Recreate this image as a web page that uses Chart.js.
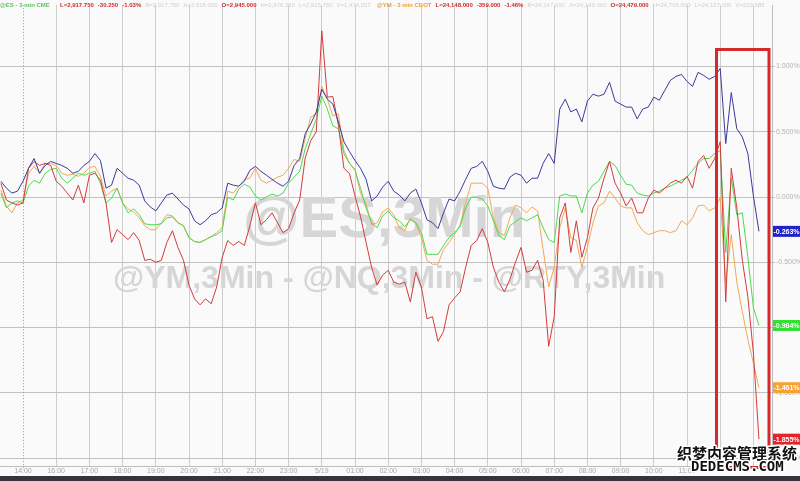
<!DOCTYPE html>
<html>
<head>
<meta charset="utf-8">
<script src="https://cdn.jsdelivr.net/npm/chart.js@4.4.1/dist/chart.umd.min.js"></script>
<style>
  html, body { margin: 0; padding: 0; background: #fafafa; }
  #wrap { width: 800px; height: 481px; }
</style>
</head>
<body>
<div id="wrap"><canvas id="chart" width="800" height="481"></canvas></div>
<script>
// 10-minute samples, % change vs. prior close
// x is trading hours after 14:00 (the 15:00-16:00 break is skipped)
const startHour = -4 / 6
const stepHour = 1 / 6

const tickLabels = ['14:00', '16:00', '17:00', '18:00', '19:00', '20:00', '21:00', '22:00', '23:00', '5/19',
  '01:00', '02:00', '03:00', '04:00', '05:00', '06:00', '07:00', '08:00', '09:00', '10:00', '11:00']
const hourCount = 23
const yTicks = [1.0, 0.5, 0.0, -0.5, -1.0, -1.5, -2.0]

const esValues = [
  0.121, 0.068, 0.030, 0.045, 0.121, 0.220, 0.295, 0.182, 0.242, 0.273,
  0.258, 0.242, 0.220, 0.182, 0.197, 0.242, 0.273, 0.333, 0.280, 0.068,
  0.091, 0.220, 0.182, 0.144, 0.129, 0.091, -0.030, -0.076, -0.106, -0.045,
  0.015, 0.030, -0.015, -0.061, -0.091, -0.182, -0.212, -0.182, -0.136, -0.121,
  -0.083, 0.106, 0.091, 0.083, 0.121, 0.205, 0.235, 0.197, 0.167, 0.136,
  0.106, 0.083, 0.121, 0.242, 0.295, 0.485, 0.561, 0.652, 0.826, 0.750,
  0.712, 0.576, 0.424, 0.348, 0.280, 0.220, 0.136, -0.030, 0.008, 0.076,
  0.121, 0.045, 0.015, -0.030, 0.030, 0.061, -0.045, -0.174, -0.197, -0.242,
  -0.121, -0.015, -0.030, 0.045, 0.136, 0.220, 0.235, 0.273, 0.197, 0.083,
  0.068, 0.061, 0.152, 0.182, 0.167, 0.106, 0.144, 0.144, 0.258, 0.333,
  0.258, 0.674, 0.750, 0.652, 0.674, 0.576, 0.735, 0.788, 0.773, 0.788,
  0.879, 0.735, 0.712, 0.689, 0.689, 0.598, 0.674, 0.689, 0.765, 0.742,
  0.818, 0.894, 0.924, 0.939, 0.886, 0.848, 0.955, 0.932, 0.902, 0.924,
  0.985, 0.410, 0.800, 0.523, 0.460, 0.333, 0.008, -0.263
]

const rtyValues = [
  0.106, -0.023, -0.045, -0.061, -0.045, 0.220, 0.273, 0.242, 0.258, 0.242,
  0.121, 0.083, 0.030, -0.023, 0.091, -0.045, 0.167, 0.182, 0.129, -0.045,
  -0.348, -0.250, -0.288, -0.326, -0.273, -0.333, -0.485, -0.477, -0.500, -0.485,
  -0.348, -0.258, -0.386, -0.485, -0.674, -0.780, -0.826, -0.780, -0.818, -0.689,
  -0.462, -0.333, -0.371, -0.341, -0.371, -0.220, -0.045, -0.212, -0.174, -0.121,
  -0.197, -0.273, -0.242, -0.121, -0.023, 0.300, 0.432, 0.500, 1.273, 0.765,
  0.770, 0.550, 0.220, 0.180, 0.008, -0.150, -0.348, -0.538, -0.674, -0.598,
  -0.561, -0.652, -0.667, -0.652, -0.803, -0.576, -0.689, -0.932, -0.917, -1.106,
  -1.030, -0.826, -0.773, -0.727, -0.538, -0.371, -0.333, -0.242, -0.348, -0.538,
  -0.652, -0.727, -0.629, -0.500, -0.386, -0.576, -0.561, -0.485, -0.636, -1.144,
  -0.917, -0.159, -0.045, -0.424, -0.182, -0.462, -0.311, -0.083, -0.008, 0.144,
  0.273, 0.106, 0.030, -0.068, -0.008, -0.121, -0.121, -0.008, 0.053, 0.030,
  0.068, 0.106, 0.129, 0.106, 0.159, 0.068, 0.273, 0.318, 0.220, 0.295,
  0.424, -0.803, 0.220, -0.083, -0.485, -0.765, -1.197, -1.855
]

const nqValues = [
  0.030, -0.083, -0.045, -0.030, -0.045, 0.083, 0.129, 0.106, 0.182, 0.212,
  0.220, 0.144, 0.106, 0.144, 0.182, 0.167, 0.182, 0.197, 0.106, -0.045,
  -0.008, 0.068, -0.045, -0.121, -0.091, -0.136, -0.205, -0.212, -0.212, -0.205,
  -0.159, -0.152, -0.197, -0.220, -0.311, -0.341, -0.348, -0.326, -0.303, -0.288,
  -0.258, 0.000, -0.023, 0.061, 0.098, 0.076, 0.008, -0.023, 0.000, 0.023,
  0.008, 0.030, 0.106, 0.152, 0.197, 0.371, 0.485, 0.598, 0.773, 0.674,
  0.545, 0.523, 0.333, 0.258, 0.205, 0.068, -0.083, -0.197, -0.235, -0.144,
  -0.106, -0.159, -0.182, -0.227, -0.174, -0.197, -0.273, -0.439, -0.439, -0.439,
  -0.371, -0.311, -0.273, -0.227, -0.083, 0.000, 0.000, -0.015, -0.068, -0.182,
  -0.295, -0.326, -0.220, -0.189, -0.159, -0.182, -0.159, -0.136, -0.235, -0.326,
  -0.348, 0.008, 0.023, 0.008, 0.008, -0.121, 0.030, 0.091, 0.121, 0.197,
  0.273, 0.242, 0.167, 0.098, 0.091, 0.030, 0.015, 0.008, 0.030, 0.045,
  0.068, 0.083, 0.106, 0.129, 0.152, 0.205, 0.258, 0.295, 0.295, 0.333,
  0.356, -0.424, 0.144, -0.136, -0.121, -0.462, -0.848, -0.984
]

const ymValues = [
  0.053, -0.068, -0.121, -0.045, -0.023, 0.182, 0.235, 0.182, 0.258, 0.258,
  0.242, 0.182, 0.167, 0.174, 0.159, 0.182, 0.227, 0.235, 0.159, 0.008,
  0.045, 0.068, -0.045, -0.091, -0.114, -0.159, -0.220, -0.250, -0.250, -0.197,
  -0.136, -0.144, -0.197, -0.220, -0.311, -0.341, -0.348, -0.326, -0.303, -0.273,
  -0.235, 0.045, 0.030, 0.083, 0.136, 0.144, 0.220, 0.129, 0.106, 0.129,
  0.152, 0.167, 0.220, 0.288, 0.273, 0.447, 0.614, 0.636, 0.848, 0.750,
  0.621, 0.636, 0.356, 0.258, 0.212, 0.030, -0.053, -0.212, -0.197, -0.114,
  -0.083, -0.136, -0.235, -0.258, -0.159, -0.205, -0.311, -0.485, -0.515, -0.515,
  -0.402, -0.348, -0.288, -0.212, -0.045, 0.106, 0.106, 0.106, 0.068, -0.159,
  -0.273, -0.295, -0.159, -0.061, -0.083, -0.121, -0.076, -0.106, -0.402, -0.689,
  -0.538, -0.235, -0.083, -0.311, -0.333, -0.538, -0.386, -0.197, -0.068, -0.045,
  0.045, -0.008, -0.068, -0.083, -0.083, -0.197, -0.258, -0.288, -0.273, -0.258,
  -0.258, -0.273, -0.258, -0.182, -0.212, -0.159, -0.068, -0.061, -0.106, -0.083,
  -0.008, -0.652, -0.288, -0.652, -0.879, -1.091, -1.273, -1.461
]

const seriesNames = ['@ES', '@RTY', '@NQ', '@YM']
const lineColors = ['#3a3a9c', '#d23c3c', '#4ed84e', '#f0a85a']
const tagColors = ['#2222cc', '#e0242a', '#33e033', '#f5a233']

// header strip, like the terminal's quote line: [text, colour, min x, bold]
const header = [
  ['@ES - 3 min CME', '#62c062', 0, true],
  ['L=2,917.750', '#cc2b2b', 60, true],
  ['-30.250', '#cc2b2b', 0, true],
  ['-1.03%', '#cc2b2b', 0, true],
  ['B=2,917.750', '#d0d0d0', 0, false],
  ['A=2,918.000', '#d0d0d0', 0, false],
  ['O=2,945.000', '#cc2b2b', 195, true],
  ['H=2,976.250', '#d0d0d0', 253, false],
  ['L=2,915.750', '#d0d0d0', 0, false],
  ['V=1,474,037', '#d0d0d0', 0, false],
  ['@YM - 3 min CBOT', '#eba03e', 377, true],
  ['L=24,148.000', '#cc2b2b', 433, true],
  ['-359.000', '#cc2b2b', 0, true],
  ['-1.46%', '#cc2b2b', 0, true],
  ['B=24,147.000', '#d0d0d0', 0, false],
  ['A=24,149.000', '#d0d0d0', 0, false],
  ['O=24,479.000', '#cc2b2b', 605, true],
  ['H=24,765.000', '#d0d0d0', 647, false],
  ['L=24,127.000', '#d0d0d0', 0, false],
  ['V=229,585', '#d0d0d0', 0, false]
]

function toPoints(vals) {
  return vals.map((v, i) => ({ x: startHour + i * stepHour, y: v }))
}

const FONT = '"Liberation Sans", Arial, sans-serif'

const overlay = {
  id: 'overlay',
  beforeDraw(chart) {
    const ctx = chart.ctx
    ctx.save()
    ctx.fillStyle = '#fafafa'
    ctx.fillRect(0, 0, chart.width, chart.height)
    ctx.restore()
  },
  beforeDatasetsDraw(chart) {
    const ctx = chart.ctx
    const area = chart.chartArea
    const x = chart.scales.x
    ctx.save()
    // session break marker at 14:00
    const bx = Math.round(x.getPixelForValue(0)) + 0.5
    ctx.strokeStyle = '#9a9a9a'
    ctx.lineWidth = 1
    ctx.setLineDash([1, 2])
    ctx.beginPath()
    ctx.moveTo(bx, area.top)
    ctx.lineTo(bx, area.bottom + 2)
    ctx.stroke()
    ctx.setLineDash([])
    // watermark
    ctx.fillStyle = '#d6d6d6'
    ctx.textBaseline = 'alphabetic'
    ctx.font = 'bold 58px ' + FONT
    ctx.fillText('@ES,3Min', 243, 237)
    ctx.font = 'bold 32px ' + FONT
    ctx.fillText('@YM,3Min - @NQ,3Min - @RTY,3Min', 113, 288)
    ctx.restore()
  },
  afterDraw(chart) {
    const ctx = chart.ctx
    const y = chart.scales.y
    ctx.save()

    // highlight box
    ctx.strokeStyle = '#d42a2a'
    ctx.lineWidth = 3
    ctx.strokeRect(716.5, 49.5, 52.5, 418)

    // last-value tags on the right axis
    ctx.font = 'bold 7px ' + FONT
    ctx.textAlign = 'center'
    ctx.textBaseline = 'middle'
    chart.data.datasets.forEach((ds, i) => {
      const last = ds.data[ds.data.length - 1].y
      const py = y.getPixelForValue(last)
      ctx.fillStyle = tagColors[i]
      ctx.fillRect(773, py - 5.5, 27, 11)
      ctx.fillStyle = '#ffffff'
      ctx.fillText(last.toFixed(3) + '%', 786.5, py + 0.5)
    })

    // quote header, laid out left to right without overlaps
    ctx.textAlign = 'left'
    ctx.textBaseline = 'middle'
    let cursor = 0
    header.forEach(([text, color, minX, bold]) => {
      ctx.font = (bold ? 'bold ' : '') + '6px ' + FONT
      const hx = Math.max(minX, cursor)
      ctx.fillStyle = color
      ctx.fillText(text, hx, 5)
      cursor = hx + ctx.measureText(text).width + 4
    })

    // site stamp in the corner
    ctx.lineJoin = 'round'
    ctx.lineWidth = 3
    ctx.strokeStyle = '#ffffff'
    ctx.fillStyle = '#111111'
    ctx.font = 'bold 15px "Noto Sans CJK SC"'
    ctx.textBaseline = 'middle'
    ctx.strokeText('织梦内容管理系统', 677, 453)
    ctx.fillText('织梦内容管理系统', 677, 453)
    ctx.font = 'bold 14px "DejaVu Sans Mono"'
    ctx.textBaseline = 'alphabetic'
    ctx.strokeText('DEDECMS.COM', 691, 471)
    ctx.fillText('DEDECMS.COM', 691, 471)

    // bottom status strip
    ctx.fillStyle = '#34343c'
    ctx.fillRect(0, 476, chart.width, 5)
    ctx.restore()
  }
}

const datasets = [esValues, rtyValues, nqValues, ymValues].map((vals, i) => ({
  label: seriesNames[i],
  data: toPoints(vals),
  borderColor: lineColors[i],
  borderWidth: 1,
  pointRadius: 0,
  tension: 0,
  fill: false
}))

const ySpanTop = 1.4697
const ySpanBottom = -2.0606

new Chart(document.getElementById('chart'), {
  type: 'line',
  data: { datasets },
  plugins: [overlay],
  options: {
    responsive: false,
    animation: false,
    devicePixelRatio: 1,
    layout: { padding: { top: 0, left: 0, right: 0, bottom: 5 } },
    scales: {
      x: {
        type: 'linear',
        min: -0.6928,
        max: 22.56,
        afterBuildTicks: (scale) => {
          scale.ticks = Array.from({ length: hourCount }, (_, k) => ({ value: k }))
        },
        afterFit: (scale) => { scale.height = 10 },
        ticks: {
          autoSkip: false,
          maxRotation: 0,
          padding: 1,
          color: '#a6a6a6',
          font: { size: 7, family: FONT },
          callback: (value, index) => tickLabels[index] || ''
        },
        grid: {
          color: (c) => (c.index === 0 ? 'rgba(0,0,0,0)' : '#cdcdcd'),
          lineWidth: 1,
          drawTicks: false
        },
        border: { color: '#bdbdbd' }
      },
      y: {
        position: 'right',
        min: ySpanBottom,
        max: ySpanTop,
        afterBuildTicks: (scale) => {
          scale.ticks = yTicks.map((v) => ({ value: v }))
        },
        afterFit: (scale) => { scale.width = 28 },
        ticks: {
          padding: 1,
          color: '#b2b2b2',
          font: { size: 7, family: FONT },
          callback: (value) => value.toFixed(3) + '%'
        },
        grid: { color: '#c2c2c2', lineWidth: 1, tickLength: 3 },
        border: { color: '#bdbdbd' }
      }
    },
    plugins: {
      legend: { display: false },
      tooltip: { enabled: false }
    }
  }
})
</script>
</body>
</html>
